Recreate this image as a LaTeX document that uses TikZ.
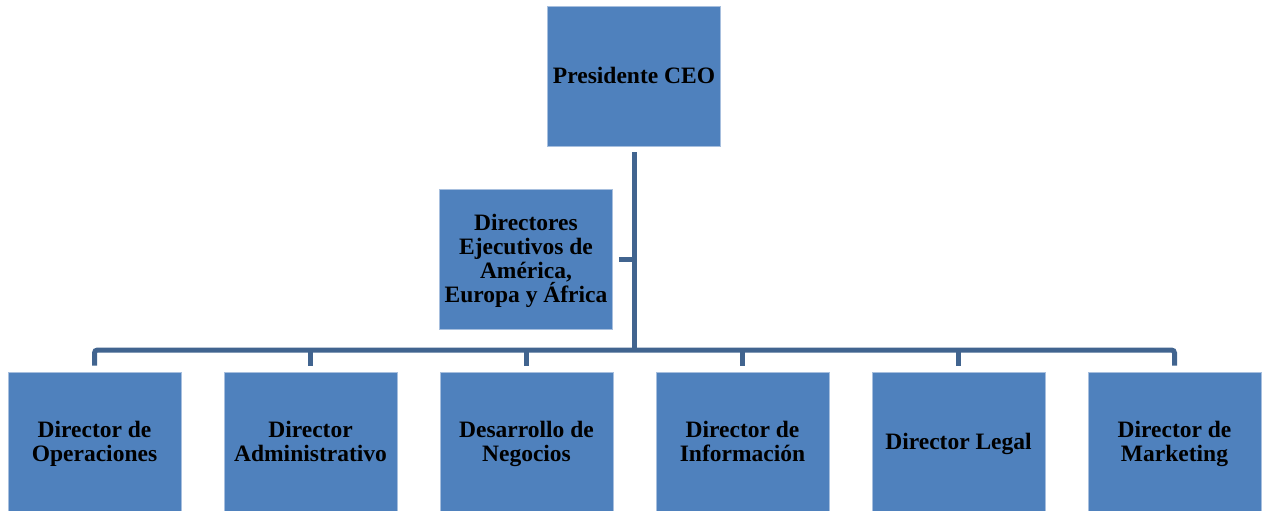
\documentclass[tikz,border=0pt]{standalone}
\usepackage{fontspec}
\setmainfont{Liberation Serif}
\usetikzlibrary{calc}
\definecolor{boxfill}{HTML}{4F81BD}
\definecolor{boxline}{HTML}{A7BFDE}
\definecolor{connector}{HTML}{41648F}
\newcommand{\topstrutx}{\rule[-7.2pt]{0pt}{30pt}}
\tikzset{
  unit/.style={draw=boxline, line width=0.8pt, fill=boxfill, minimum width=173pt, minimum height=140pt,
    inner sep=1pt, align=center, font=\fontsize{23.5}{24}\selectfont\bfseries, text=black},
  link/.style={draw=connector, line width=5pt, rounded corners=3pt}
}
\begin{document}
\begin{tikzpicture}[x=1pt,y=-1pt]
\useasboundingbox (0,0) rectangle (1267,511);
\node[unit] (ceo) at (634,76) {\topstrutx Presidente CEO\strut};
\node[unit] (asst) at (526,259) {\topstrutx Directores\\Ejecutivos de\\América,\\Europa y África\strut};
\node[unit] (o1) at (94.5,442) {\topstrutx Director de\\Operaciones\strut};
\node[unit] (o2) at (310.5,442) {\topstrutx Director\\Administrativo\strut};
\node[unit] (o3) at (526.5,442) {\topstrutx Desarrollo de\\Negocios\strut};
\node[unit] (o4) at (742.5,442) {\topstrutx Director de\\Información\strut};
\node[unit] (o5) at (958.5,442) {\topstrutx Director Legal\strut};
\node[unit] (o6) at (1174.5,442) {\topstrutx Director de\\Marketing\strut};
\coordinate (bar) at (634,350);
\draw[link] ($(ceo.south)+(0,6)$) -- (ceo.south |- bar);
\draw[link] ($(asst.east)+(6,0)$) -- ($(asst.east -| ceo.south)+(2.5,0)$);
\draw[link] ($(o1.north)+(0,-6)$) |- (bar) -| ($(o6.north)+(0,-6)$);
\foreach \n in {o2,o3,o4,o5}{
  \draw[link] ($(\n.north)+(0,-6)$) -- (\n.north |- bar);
}
\end{tikzpicture}
\end{document}
